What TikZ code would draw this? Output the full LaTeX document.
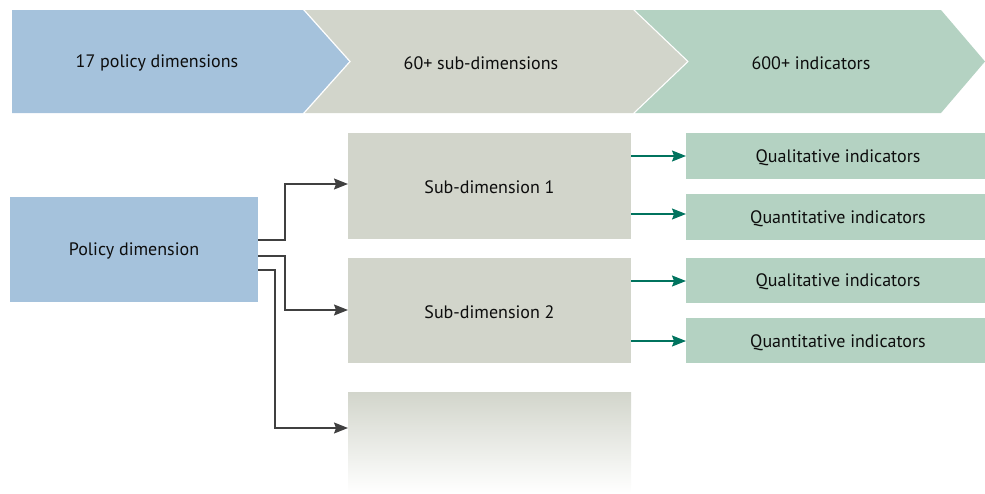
\documentclass[tikz,border=0pt]{standalone}
\usepackage{fontspec}
\setmainfont{PT Sans}
\usetikzlibrary{arrows.meta}
\definecolor{cblue}{HTML}{A5C2DC}
\definecolor{cgray}{HTML}{D2D5CB}
\definecolor{cgreen}{HTML}{B4D2C2}
\definecolor{cteal}{HTML}{00735E}
\begin{document}
\begin{tikzpicture}[x=1pt,y=-1pt,
  lbl/.style={font=\fontsize{18}{21}\selectfont, text=black!95, yshift=-1.5pt},
  conn/.style={draw=black!75, line width=1.2pt, -{Stealth[length=14pt,width=11pt,inset=2pt]}},
  gconn/.style={draw=cteal, line width=1.2pt, -{Stealth[length=14pt,width=11pt,inset=2pt]}}]
\useasboundingbox (0,0) rectangle (985,493);
% chevrons
\fill[cblue] (12,10) -- (303,10) -- (349,61.5) -- (303,113) -- (12,113) -- cycle;
\fill[cgray] (305,10) -- (633,10) -- (687,61.5) -- (633,113) -- (305,113) -- (351,61.5) -- cycle;
\fill[cgreen] (635,10) -- (941,10) -- (985,61.5) -- (941,113) -- (635,113) -- (689,61.5) -- cycle;
\node[lbl] (c1) at (157,61.5) {17 policy dimensions};
\node[lbl] (c2) at (481,61.5) {60+ sub-dimensions};
\node[lbl] (c3) at (811,61.5) {600+ indicators};
% boxes
\fill[cblue] (10,197) rectangle (258,302);
\node[lbl] (pd) at (134,249.5) {Policy dimension};
\coordinate (pdA) at (258,240);
\coordinate (pdB) at (258,256);
\coordinate (pdC) at (258,270);
\fill[cgray] (348,133) rectangle (631,239);
\node[lbl] (s1) at (489.5,186) {Sub-dimension 1};
\fill[cgray] (348,258) rectangle (631,363);
\node[lbl] (s2) at (489.5,310.5) {Sub-dimension 2};
\shade[top color=cgray, bottom color=white] (348,392) rectangle (631,493);
\coordinate (s1w) at (348,184);
\coordinate (s2w) at (348,310);
\coordinate (s3w) at (348,428);
% indicator boxes
\fill[cgreen] (686,133) rectangle (985,179);
\node[lbl] (i1) at (838,156) {Qualitative indicators};
\fill[cgreen] (686,194) rectangle (985,240);
\node[lbl] (i2) at (838,217) {Quantitative indicators};
\fill[cgreen] (686,258) rectangle (985,303);
\node[lbl] (i3) at (838,280.5) {Qualitative indicators};
\fill[cgreen] (686,318) rectangle (985,363);
\node[lbl] (i4) at (838,341) {Quantitative indicators};
% connectors
\draw[conn] (pdA) -| (285,184) -- (s1w);
\draw[conn] (pdB) -| (285,310) -- (s2w);
\draw[conn] (pdC) -| (275,428) -- (s3w);
\coordinate (a1) at (631,156); \coordinate (b1) at (686,156);
\coordinate (a2) at (631,214); \coordinate (b2) at (686,214);
\coordinate (a3) at (631,281); \coordinate (b3) at (686,281);
\coordinate (a4) at (631,341); \coordinate (b4) at (686,341);
\draw[gconn] (a1) -- (b1);
\draw[gconn] (a2) -- (b2);
\draw[gconn] (a3) -- (b3);
\draw[gconn] (a4) -- (b4);
\end{tikzpicture}
\end{document}
